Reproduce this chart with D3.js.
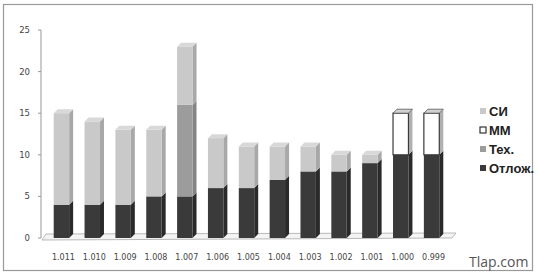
<!DOCTYPE html>
<html><head><meta charset="utf-8">
<script src="https://cdn.jsdelivr.net/npm/d3@7"></script>
<style>body{margin:0;background:#fff}svg{display:block}</style>
</head><body>
<script>
const categories = ["1.011","1.010","1.009","1.008","1.007","1.006","1.005","1.004","1.003","1.002","1.001","1.000","0.999"];
const otlozh = [4,4,4,5,5,6,6,7,8,8,9,10,10];
const tech   = [0,0,0,0,11,0,0,0,0,0,0,0,0];
const mm     = [0,0,0,0,0,0,0,0,0,0,0,5,5];
const si     = [11,10,9,8,7,6,5,4,3,2,1,0,0];
const yTicks = [0,5,10,15,20,25];
const seriesNames = ["Отлож.","Тех.","ММ","СИ"];
const legendOrder = ["СИ","ММ","Тех.","Отлож."];

const W=537,H=277;
const svg=d3.select("body").append("svg").attr("width",W).attr("height",H);
const fills={"Отлож.":"#3a3a3a","Тех.":"#9c9c9c","ММ":"#ffffff","СИ":"#c9c9c9"};
const sides={"Отлож.":"#2a2a2a","Тех.":"#858585","ММ":"#b0b0b0","СИ":"#a8a8a8"};
const tops={"Отлож.":"#555","Тех.":"#b0b0b0","ММ":"#d0d0d0","СИ":"#d8d8d8"};
const strokes={"Отлож.":"none","Тех.":"none","ММ":"#3a3a3a","СИ":"none"};

// frame
svg.append("rect").attr("x",3.5).attr("y",4.5).attr("width",529).attr("height",266)
  .attr("fill","none").attr("stroke","#999").attr("stroke-width",1.2);

const x=d3.scaleBand().domain(categories).range([46,447]).paddingInner(0.5).paddingOuter(0.25);
const y=d3.scaleLinear().domain([0,25]).range([238,30]);
const dx=4, dy=-4;

// floor
const x0=42, x1=452;
svg.append("path").attr("d",`M${x0},${y(0)+2}L${x1},${y(0)}L${x1+4},${y(0)-5}L${x0+4},${y(0)-4}Z`)
  .attr("fill","#f4f4f4").attr("stroke","#aaa").attr("stroke-width",0.8);

// y axis
const ax=svg.append("g").attr("transform","translate(41,0)");
ax.append("line").attr("y1",y(0)).attr("y2",y(25)).attr("stroke","#999");
yTicks.forEach(t=>{
  ax.append("line").attr("x1",-3).attr("x2",0).attr("y1",y(t)).attr("y2",y(t)).attr("stroke","#999");
  ax.append("text").attr("x",-11).attr("y",y(t)+3).attr("text-anchor","end")
    .attr("font-family","DejaVu Sans").attr("font-size",8.5).attr("fill","#444").text(t);
});

// bars
const data=categories.map((c,i)=>({c,vals:{"Отлож.":otlozh[i],"Тех.":tech[i],"ММ":mm[i],"СИ":si[i]}}));
const stack=d3.stack().keys(seriesNames)(data.map(d=>Object.assign({c:d.c},d.vals)));
categories.forEach((c,i)=>{
  const g=svg.append("g");
  const bx=x(c), bw=x.bandwidth();
  let topKey=null;
  stack.forEach(s=>{
    const [a,b]=s[i];
    if(b-a<=0) return;
    topKey=s.key;
    const yt=y(b), yb=y(a);
    g.append("path").attr("d",`M${bx+bw},${yb}L${bx+bw+dx},${yb+dy}L${bx+bw+dx},${yt+dy}L${bx+bw},${yt}Z`)
      .attr("fill",sides[s.key]);
    g.append("rect").attr("x",bx).attr("y",yt).attr("width",bw).attr("height",yb-yt)
      .attr("fill",fills[s.key]).attr("stroke",strokes[s.key]).attr("stroke-width",1.2);
  });
  const tot=stack[stack.length-1][i][1];
  const yt=y(tot);
  g.append("path").attr("d",`M${bx},${yt}L${bx+dx},${yt+dy}L${bx+bw+dx},${yt+dy}L${bx+bw},${yt}Z`)
    .attr("fill",tops[topKey]).attr("stroke",topKey==="ММ"?"#555":"none").attr("stroke-width",0.8);
  svg.append("text").attr("x",bx+bw/2+2).attr("y",260).attr("text-anchor","middle")
    .attr("font-family","DejaVu Sans").attr("font-size",8).attr("fill","#444").text(c);
});

// legend
legendOrder.forEach((k,i)=>{
  const ly=112+i*19;
  svg.append("rect").attr("x",480).attr("y",ly-4).attr("width",6).attr("height",6)
    .attr("fill",fills[k]).attr("stroke",k==="ММ"?"#333":"none").attr("stroke-width",1.2);
  svg.append("text").attr("x",489).attr("y",ly+4).attr("font-family","Liberation Sans")
    .attr("font-weight","bold").attr("font-size",13).attr("fill","#222").text(k);
});

svg.append("text").attr("x",469).attr("y",267).attr("font-family","Open Sans")
  .attr("font-size",14).attr("fill","#555").text("Tlap.com");
</script>
</body></html>
